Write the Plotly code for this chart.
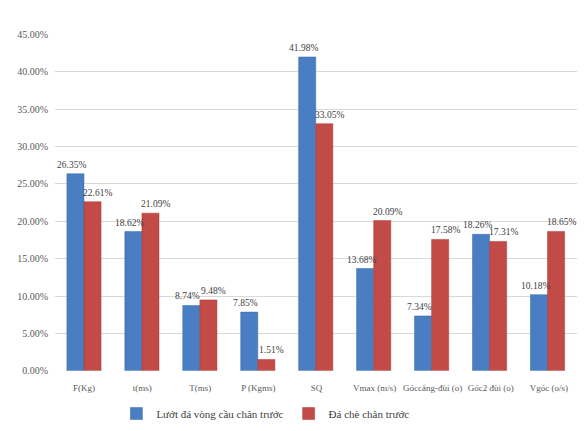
import plotly.graph_objects as go

categories = ["F(Kg)", "t(ms)", "T(ms)", "P (Kgms)", "SQ", "Vmax (m/s)",
              "Góccẳng-đùi (o)", "Góc2 đùi (o)", "Vgóc (o/s)"]
luot_da = [26.35, 18.62, 8.74, 7.85, 41.98, 13.68, 7.34, 18.26, 10.18]
da_che = [22.61, 21.09, 9.48, 1.51, 33.05, 20.09, 17.58, 17.31, 18.65]
series_names = ["Lướt đá vòng cầu chân trước", "Đá chè chân trước"]
y_ticks = [0, 5, 10, 15, 20, 25, 30, 35, 40, 45]

serif = "Liberation Serif, Times New Roman, serif"
W, H = 585, 431
colors = ["#4A7EC2", "#C24B48"]
edges = ["#3A68A8", "#A53B38"]

fig = go.Figure()
for name, vals, c, e in zip(series_names, [luot_da, da_che], colors, edges):
    fig.add_trace(go.Bar(
        x=categories, y=vals, name=name,
        marker=dict(color=c, line=dict(color=e, width=0.5)),
    ))

# value labels, nudged apart like the Excel 3D layout
for vals, shift in [(luot_da, -12), (da_che, 14)]:
    for cat, v in zip(categories, vals):
        fig.add_annotation(
            x=cat, y=v, text=f"{v:.2f}%", showarrow=False,
            xref="x", yref="y", yanchor="bottom", yshift=2, xshift=shift,
            font=dict(family=serif, size=9.5, color="#404040"),
        )

# invisible helper trace so the category labels sit where the reference puts them
fig.add_trace(go.Scatter(
    x=categories, y=luot_da, xaxis="x2", mode="markers",
    marker=dict(opacity=0), showlegend=False, hoverinfo="skip",
))

fig.update_layout(
    width=W, height=H,
    margin=dict(l=0, r=0, t=0, b=0),
    paper_bgcolor="white", plot_bgcolor="white",
    font=dict(family=serif, size=10, color="#595959"),
    barmode="group", bargap=0.41, bargroupgap=0.0,
    legend=dict(
        orientation="h", x=0.44, xanchor="center", y=1 - 411 / H, yanchor="middle",
        font=dict(family=serif, size=11, color="#404040"),
        traceorder="normal",
    ),
    xaxis=dict(
        domain=[47 / W, 570 / W], showticklabels=False, showgrid=False,
        showline=False, zeroline=False, type="category",
    ),
    xaxis2=dict(
        domain=[37 / W, 504 / W], anchor="y", overlaying="x", side="bottom",
        type="category", categoryarray=categories, categoryorder="array",
        range=[-0.5, len(categories) - 0.5],
        showgrid=False, showline=False, zeroline=False,
        ticks="outside", ticklen=8, tickcolor="rgba(0,0,0,0)",
        tickfont=dict(family=serif, size=9, color="#595959"),
    ),
    yaxis=dict(
        domain=[1 - 367 / H, 1 - 21 / H], range=[0, 45],
        tickmode="array", tickvals=y_ticks,
        ticktext=[f"{v:.2f}%" for v in y_ticks],
        anchor="free", position=40 / W,
        showgrid=True, gridcolor="#D9D9D9", gridwidth=1,
        zeroline=False, showline=False,
        tickfont=dict(family=serif, size=10, color="#595959"),
    ),
)

fig.write_html("out.html")
